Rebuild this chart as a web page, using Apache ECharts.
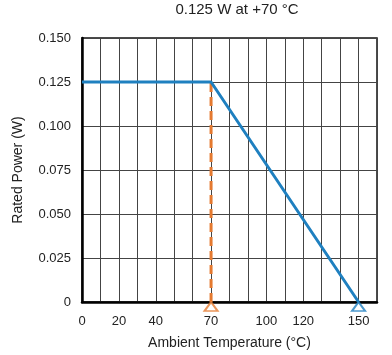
<!DOCTYPE html>
<html><head><meta charset="utf-8">
<script src="https://cdn.jsdelivr.net/npm/echarts@6/dist/echarts.min.js"></script>
<style>html,body{margin:0;padding:0;background:#fff}#c{width:392px;height:355px}</style>
</head><body><div id="c"></div>
<script>
const titleText = '0.125 W at +70 °C';
const xName = 'Ambient Temperature (°C)';
const yName = 'Rated Power (W)';
const xTickLabels = [0, 20, 40, 70, 100, 120, 150];
const deratingTemp = [0, 70, 150];
const deratingPower = [0.125, 0.125, 0];
const ratedTemp = [70, 70];
const ratedPower = [0, 0.125];
const markerTemp = [70, 150];
const markerPower = [0, 0];
const markerColors = ['#e57a30', '#1f80c0'];

const chart = echarts.init(document.getElementById('c'), null, {renderer: 'canvas'});
const font = 'Liberation Sans, Arial, Helvetica, sans-serif';
chart.setOption({
  animation: false,
  title: {text: titleText, left: 232, top: -3, textAlign: 'center',
    textStyle: {fontFamily: font, fontSize: 15, fontWeight: 'normal', color: '#222'}},
  grid: {left: 82, right: 15, top: 38, bottom: 52, show: true, borderColor: '#111', borderWidth: 1.5, backgroundColor: 'transparent'},
  xAxis: {type: 'value', min: 0, max: 160, interval: 10,
    name: xName, nameLocation: 'middle', nameGap: 34,
    nameTextStyle: {fontFamily: font, fontSize: 14, color: '#222'},
    axisLine: {show: true, onZero: false, lineStyle: {color: '#000', width: 2.5}},
    axisTick: {show: false},
    axisLabel: {fontFamily: font, fontSize: 13, color: '#222', margin: 13, showMaxLabel: true,
      formatter: v => xTickLabels.includes(v) ? String(v) : ''},
    splitLine: {show: true, lineStyle: {color: '#444', width: 1}}},
  yAxis: {type: 'value', min: 0, max: 0.15, interval: 0.025,
    name: yName, nameLocation: 'middle', nameGap: 57, nameRotate: 90,
    nameTextStyle: {fontFamily: font, fontSize: 14, color: '#222'},
    axisLine: {show: true, lineStyle: {color: '#000', width: 2.5}},
    axisTick: {show: false},
    axisLabel: {fontFamily: font, fontSize: 13, color: '#222', margin: 11,
      formatter: v => v === 0 ? '0' : v.toFixed(3)},
    splitLine: {show: true, lineStyle: {color: '#444', width: 1}}},
  series: [
    {type: 'line', data: ratedTemp.map((t, i) => [t, ratedPower[i]]), symbol: 'none',
      lineStyle: {color: '#e57a30', width: 3, type: [9, 5]}, z: 3},
    {type: 'line', data: deratingTemp.map((t, i) => [t, deratingPower[i]]), symbol: 'none',
      lineStyle: {color: '#1f80c0', width: 3}, z: 4},
    {type: 'scatter', clip: false, z: 5,
      symbol: 'triangle', symbolSize: [13, 9], symbolOffset: [0, 4.5],
      data: markerTemp.map((t, i) => ({value: [t, markerPower[i]],
        itemStyle: {color: '#fff', borderWidth: 2, borderColor: markerColors[i]}}))}
  ]
});
</script></body></html>
